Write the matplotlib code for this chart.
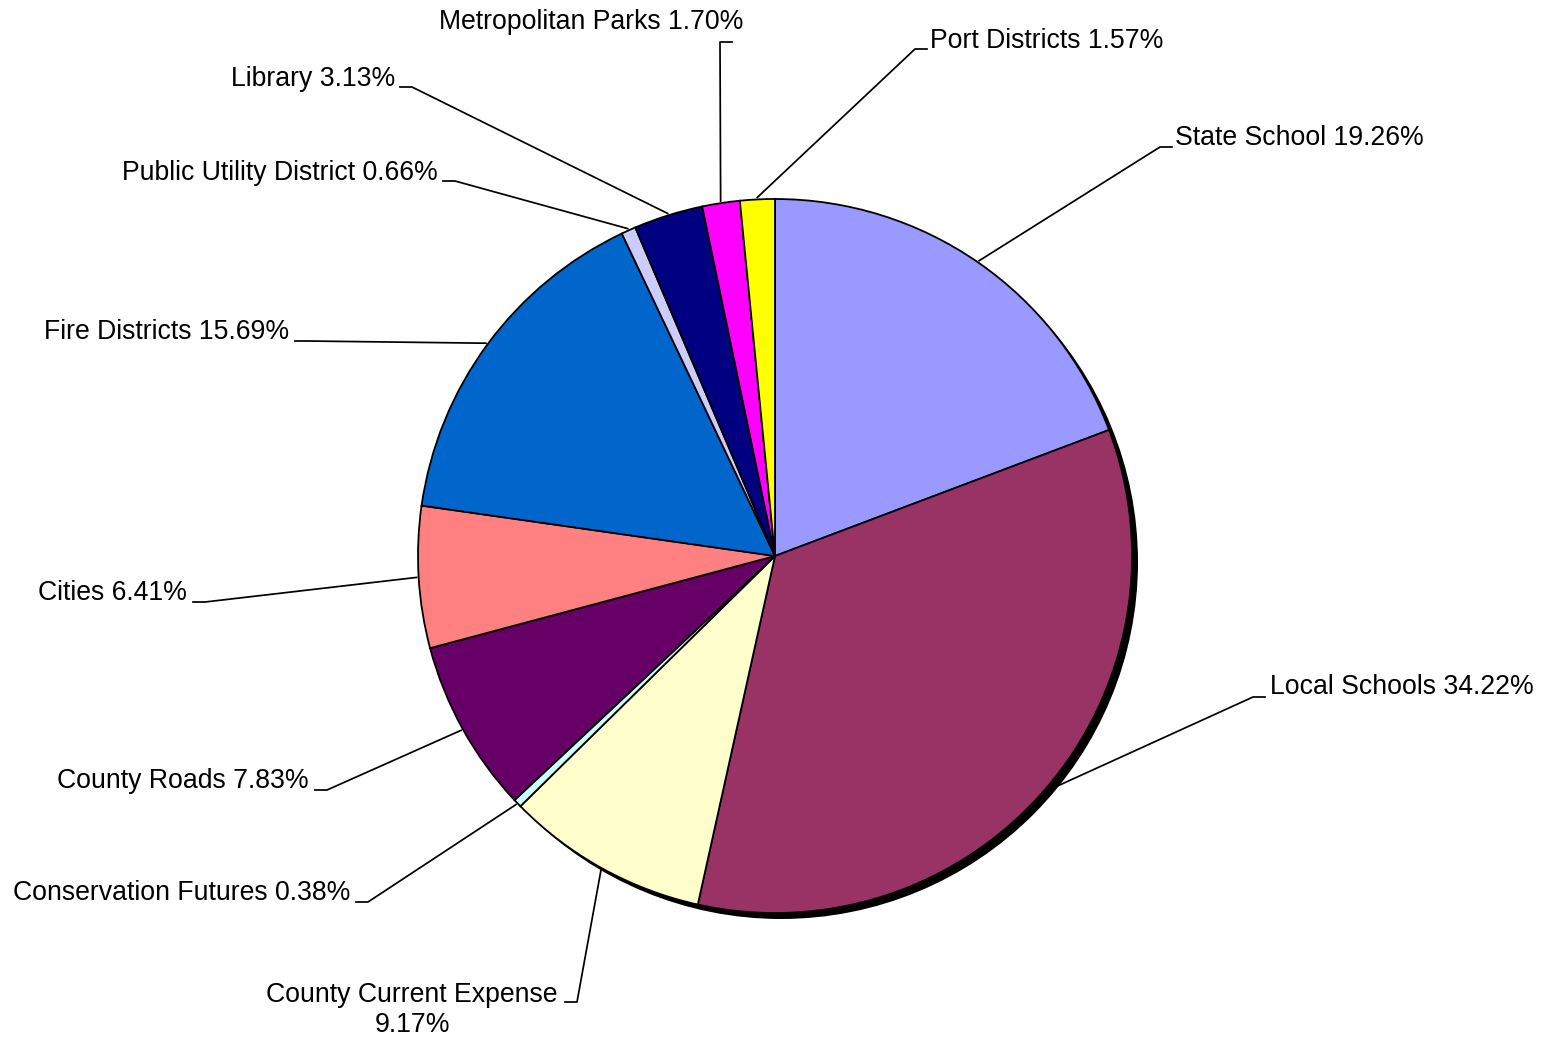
import numpy as np
import matplotlib
matplotlib.use('Agg')
import matplotlib.pyplot as plt
from matplotlib.patches import Circle

labels = ['State School', 'Local Schools', 'County Current Expense', 'Conservation Futures',
          'County Roads', 'Cities', 'Fire Districts', 'Public Utility District',
          'Library', 'Metropolitan Parks', 'Port Districts']
values = [19.26, 34.22, 9.17, 0.38, 7.83, 6.41, 15.69, 0.66, 3.13, 1.70, 1.57]
colors = ['#9999FF', '#993366', '#FFFFCC', '#CCFFFF', '#660066', '#FF8080',
          '#0066CC', '#CCCCFF', '#000080', '#FF00FF', '#FFFF00']

W, H = 1545, 1041
cx, cy, R = 775, H - 556, 357

# label layout (pixel coords from top): elbow x, elbow y, text x, text y, align
label_pos = [
    (1160, 147, 1175, 138, 'left'),
    (1253, 697, 1270, 687, 'left'),
    (577, 1002, 557, 995, 'right'),
    (368, 902, 350, 893, 'right'),
    (327, 790, 309, 781, 'right'),
    (205, 602, 187, 593, 'right'),
    (307, 341, 289, 332, 'right'),
    (455, 181, 438, 173, 'right'),
    (412, 87, 395, 79, 'right'),
    (720, 42, 743, 22, 'right'),
    (915, 49, 930, 41, 'left'),
]

plt.rcParams['font.family'] = ['Liberation Sans', 'DejaVu Sans']
fig = plt.figure(figsize=(W / 100, H / 100), dpi=100)
ax = fig.add_axes([0, 0, 1, 1])

# shadow
ax.add_patch(Circle((cx + 6, cy - 6), R, facecolor='black', edgecolor='none', zorder=0))

wedges, _ = ax.pie(values, colors=colors, startangle=90, counterclock=False,
                   center=(cx, cy), radius=R, frame=True,
                   wedgeprops=dict(edgecolor='black', linewidth=1.3))
ax.set_xlim(0, W)
ax.set_ylim(0, H)
ax.set_aspect('equal')
ax.axis('off')

fs = 19.2
cum = np.cumsum([0] + values[:-1])
total = sum(values)
for lab, v, c0, (ex, ey, tx, ty, ha) in zip(labels, values, cum, label_pos):
    ang = np.deg2rad((c0 + v / 2) / total * 360)
    wx = cx + (R + 2) * np.sin(ang)
    wy = cy + (R + 2) * np.cos(ang)
    ey = H - ey
    step = 12 if ha == 'left' else -12
    if lab == 'Metropolitan Parks':
        step = 12
    ax.plot([wx, ex, ex + step], [wy, ey, ey], color='black', lw=1.25, zorder=5)
    if lab == 'County Current Expense':
        ax.text(tx, H - ty, lab, ha='right', va='center', fontsize=fs)
        ax.text(412, H - 1025, '{:.2f}%'.format(v), ha='center', va='center', fontsize=fs)
    else:
        ax.text(tx, H - ty, '{} {:.2f}%'.format(lab, v), ha=ha, va='center', fontsize=fs)

fig.savefig('out.png', dpi=100)
